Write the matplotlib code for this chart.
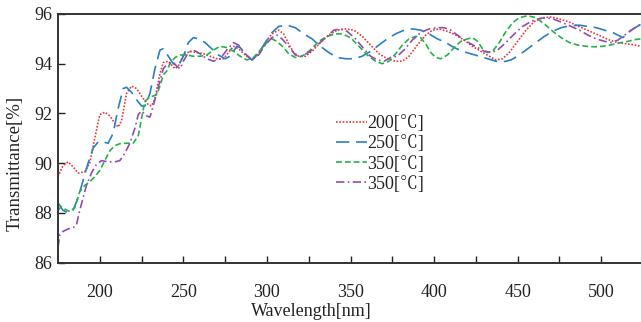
import matplotlib
matplotlib.use("Agg")
import matplotlib.pyplot as plt

plt.rcParams['font.family'] = ['Liberation Serif', 'Noto Serif CJK SC', 'Noto Sans CJK SC', 'DejaVu Serif']
plt.rcParams['mathtext.fontset'] = 'stix'

labels = ['200[\u2103]', '250[\u2103]', '350[\u2103]', '350[\u2103]']

wl_200 = [175, 178, 181, 184, 187, 191, 194, 197, 200, 203, 206, 209, 211, 213, 216, 219, 222, 226, 229, 231,
          233, 236, 238, 241, 243, 245, 247, 250, 254, 258, 262, 266, 270, 274, 277, 280, 283, 287, 291, 295,
          299, 303, 307, 310, 313, 316, 319, 323, 327, 332, 337, 342, 347, 352, 357, 362, 367, 372, 377, 381,
          385, 390, 395, 399, 403, 408, 413, 418, 423, 428, 433, 437, 441, 445, 450, 455, 460, 465, 470, 475,
          480, 485, 490, 495, 500, 505, 510, 515, 520, 524]
t_200 = [89.45, 89.9, 90.05, 89.85, 89.6, 89.65, 90.0, 91.0, 91.95, 92.05, 91.9, 91.6, 91.45, 91.7, 92.8, 93.1, 93.0, 92.6, 92.35, 92.3,
         92.6, 93.6, 94.05, 94.1, 93.95, 93.8, 93.9, 94.35, 94.5, 94.45, 94.4, 94.3, 94.2, 94.2, 94.45, 94.7, 94.6, 94.35, 94.15, 94.4,
         94.85, 95.2, 95.35, 95.2, 94.8, 94.45, 94.3, 94.3, 94.5, 94.85, 95.15, 95.35, 95.4, 95.35, 95.1, 94.75, 94.4, 94.2, 94.1, 94.1,
         94.3, 94.75, 95.15, 95.35, 95.4, 95.3, 95.15, 94.95, 94.7, 94.5, 94.3, 94.15, 94.2, 94.45, 94.9, 95.35, 95.7, 95.85, 95.88, 95.8,
         95.7, 95.55, 95.4, 95.25, 95.1, 94.95, 94.85, 94.8, 94.75, 94.7]

wl_250 = [175, 178, 181, 184, 187, 190, 193, 196, 199, 202, 205, 208, 211, 214, 216, 219, 222, 225, 227, 230,
          233, 236, 238, 241, 244, 247, 250, 253, 256, 259, 263, 267, 271, 275, 278, 282, 284, 287, 291, 295,
          299, 303, 307, 312, 317, 322, 327, 332, 337, 342, 347, 352, 357, 362, 367, 372, 377, 382, 387, 392,
          397, 402, 407, 412, 417, 422, 427, 432, 437, 441, 446, 451, 456, 461, 466, 471, 476, 481, 487, 492,
          497, 502, 507, 513, 518, 524]
t_250 = [88.4, 88.1, 88.0, 88.1, 88.6, 89.3, 90.0, 90.6, 90.85, 90.85, 90.8, 91.2, 92.2, 93.0, 93.05, 92.85, 92.55, 92.3, 92.3, 92.8,
         93.8, 94.55, 94.6, 94.3, 94.0, 93.9, 94.3, 94.85, 95.05, 95.0, 94.85, 94.6, 94.35, 94.2, 94.3, 94.7, 94.65, 94.4, 94.15, 94.4,
         94.85, 95.25, 95.5, 95.55, 95.45, 95.2, 95.0, 94.7, 94.45, 94.25, 94.2, 94.2, 94.3, 94.5, 94.75, 95.0, 95.2, 95.35, 95.4, 95.35,
         95.2, 95.0, 94.85, 94.65, 94.5, 94.4, 94.3, 94.2, 94.1, 94.07, 94.15, 94.35, 94.6, 94.85, 95.1, 95.3, 95.45, 95.52, 95.55, 95.5,
         95.45, 95.35, 95.25, 95.05, 95.35, 95.6]

wl_350a = [175, 177, 179, 182, 185, 188, 191, 194, 197, 200, 203, 206, 209, 212, 216, 220, 223, 225, 227, 230,
           234, 236, 238, 240, 242, 245, 248, 252, 256, 260, 264, 268, 272, 276, 280, 284, 288, 292, 296, 300,
           303, 306, 310, 313, 317, 321, 326, 331, 336, 341, 345, 350, 355, 360, 365, 369, 373, 377, 381, 385,
           389, 392, 395, 398, 401, 404, 408, 412, 416, 420, 423, 426, 429, 432, 435, 439, 443, 447, 451, 456,
           461, 466, 471, 476, 481, 486, 491, 496, 501, 506, 511, 516, 520, 524]
t_350a = [88.1, 88.25, 88.15, 88.05, 88.2, 88.85, 89.1, 89.25, 89.45, 89.7, 90.1, 90.5, 90.7, 90.78, 90.8, 90.8, 91.1, 91.8, 92.5, 92.65,
          92.75, 93.1, 93.55, 93.7, 94.0, 94.25, 94.35, 94.35, 94.3, 94.3, 94.35, 94.55, 94.7, 94.65, 94.5, 94.3, 94.15, 94.25, 94.55, 94.85,
          95.0, 94.9, 94.65, 94.4, 94.25, 94.3, 94.55, 94.9, 95.1, 95.2, 95.2, 95.05, 94.7, 94.35, 94.1, 94.0, 94.1, 94.4, 94.75, 95.0,
          95.1, 95.05, 94.8, 94.45, 94.25, 94.2, 94.35, 94.65, 94.9, 95.0, 95.05, 94.9, 94.6, 94.45, 94.5, 94.85, 95.3, 95.65, 95.85, 95.93,
          95.85, 95.6, 95.3, 95.05, 94.85, 94.75, 94.7, 94.68, 94.7, 94.76, 94.84, 94.9, 94.97, 95.0]

wl_350b = [175, 176, 178, 181, 184, 186, 188, 190, 192, 195, 198, 201, 205, 209, 212, 215, 218, 221, 223, 225,
           228, 230, 232, 234, 236, 238, 240, 242, 244, 246, 248, 250, 253, 256, 260, 264, 268, 272, 276, 280,
           283, 287, 291, 295, 299, 303, 306, 309, 313, 317, 321, 326, 331, 336, 340, 344, 348, 353, 358, 362,
           366, 370, 374, 378, 382, 387, 392, 397, 402, 406, 410, 414, 418, 422, 426, 430, 434, 438, 443, 448,
           453, 458, 463, 467, 472, 477, 482, 487, 492, 497, 502, 506, 510, 514, 519, 524]
t_350b = [86.6, 87.1, 87.25, 87.35, 87.4, 87.5, 88.1, 88.6, 89.1, 89.6, 89.95, 90.1, 90.05, 90.05, 90.1, 90.4, 90.8, 91.4, 91.95, 92.1,
          91.9, 91.85, 92.3, 92.8, 93.3, 93.8, 93.95, 94.0, 94.05, 93.9, 93.8, 94.1, 94.45, 94.55, 94.4, 94.2, 94.1, 94.2, 94.55, 94.85,
          94.75, 94.4, 94.15, 94.35, 94.75, 95.05, 95.15, 95.0, 94.7, 94.35, 94.3, 94.5, 94.8, 95.1, 95.35, 95.4, 95.3, 95.0, 94.6, 94.3,
          94.15, 94.1, 94.25, 94.3, 94.55, 94.95, 95.25, 95.4, 95.45, 95.45, 95.35, 95.15, 94.95, 94.8, 94.65, 94.5, 94.45, 94.55, 94.85, 95.2,
          95.5, 95.7, 95.82, 95.85, 95.78, 95.65, 95.5, 95.35, 95.15, 95.0, 94.9, 94.85, 94.95, 95.15, 95.4, 95.6]

W, H = 641, 322
x0, x1, y_bot, y_top = 58, 643, 262.5, 14
fig = plt.figure(figsize=(W / 100, H / 100), dpi=100)
ax = fig.add_axes([x0 / W, 1 - y_bot / H, (x1 - x0) / W, (y_bot - y_top) / H])

lw = 1.2
ax.plot(wl_200, t_200, color='#e8393a', lw=lw, linestyle=(0, (1, 1)), label=labels[0])
ax.plot(wl_250, t_250, color='#2b7ec1', lw=lw, linestyle=(0, (8, 4)), label=labels[1])
ax.plot(wl_350a, t_350a, color='#27b04b', lw=lw, linestyle=(0, (3.5, 1.8)), label=labels[2])
ax.plot(wl_350b, t_350b, color='#8e4fb0', lw=lw, linestyle=(0, (5, 2, 1, 2)), label=labels[3])

ax.set_xlim(175, 525)
ax.set_ylim(86, 96)
ax.set_xticks([200, 250, 300, 350, 400, 450, 500])
ax.set_xticks([225, 275, 325, 375, 425, 475, 525], minor=True)
ax.set_yticks([86, 88, 90, 92, 94, 96])
ax.tick_params(axis='both', which='both', direction='in', labelsize=13, colors='#222222', width=1.0)
ax.tick_params(axis='x', which='major', length=5, pad=15.5)
ax.tick_params(axis='x', which='minor', length=5)
ax.tick_params(axis='y', which='major', length=5, pad=4)
for s in ax.spines.values():
    s.set_linewidth(1.4)
    s.set_color('#333333')

ax_w = x1 - x0
ax_h = y_bot - y_top
ax.set_xlabel('Wavelength[nm]', fontsize=13, color='#222222', va='top', ha='center')
ax.xaxis.set_label_coords((311.5 - x0) / ax_w, -(303 - y_bot) / ax_h)
ax.set_ylabel('Transmittance[%]', fontsize=13.5, color='#222222', va='center', ha='center')
ax.yaxis.set_label_coords((15 - x0) / ax_w, (y_bot - 163) / ax_h)

leg = ax.legend(loc='upper left', bbox_to_anchor=(336 / W, 1 - 115 / H), bbox_transform=fig.transFigure,
                frameon=False, fontsize=13, handlelength=1.7, handletextpad=0.05, labelspacing=0.18,
                borderpad=0, borderaxespad=0)
for t in leg.get_texts():
    t.set_color('#222222')

fig.savefig('out.png', dpi=100)
